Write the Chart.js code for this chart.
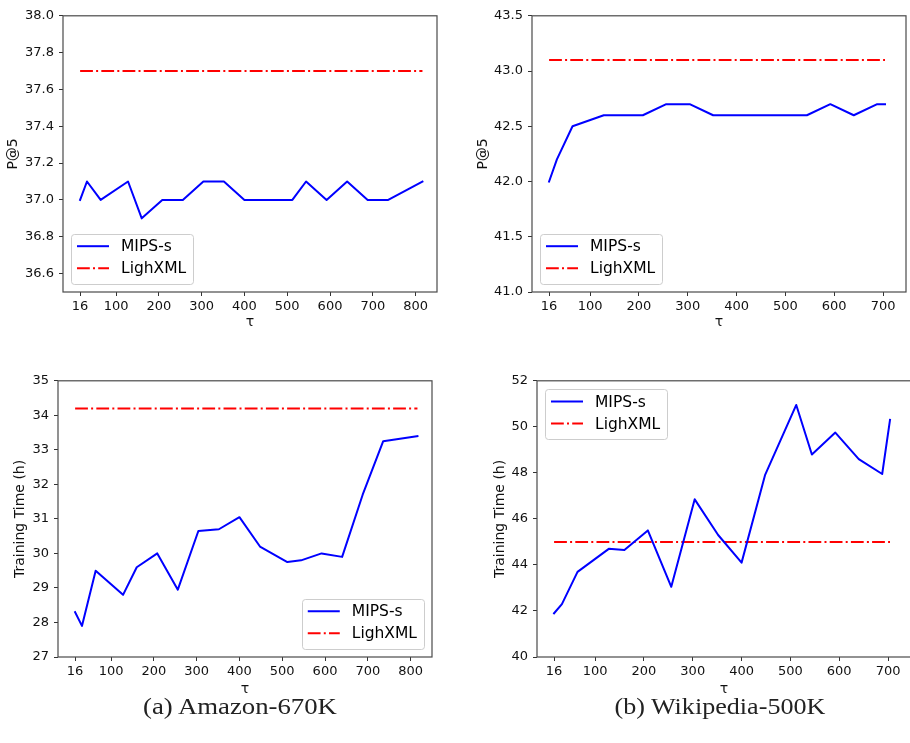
<!DOCTYPE html>
<html><head><meta charset="utf-8">
<script src="https://cdn.jsdelivr.net/npm/chart.js@4.4.0/dist/chart.umd.min.js"></script>
<style>
html,body{margin:0;padding:0;background:#fff;}
body{width:910px;height:743px;position:relative;overflow:hidden;}
.box{position:absolute;}
.box canvas{display:block;}
.cap{position:absolute;font-family:'Liberation Serif','Times New Roman',serif;font-size:24px;line-height:28px;color:#222;white-space:nowrap;transform-origin:center center;}
</style></head><body>
<div class="box" id="b1"><canvas id="c1"></canvas></div>
<div class="box" id="b2"><canvas id="c2"></canvas></div>
<div class="box" id="b3"><canvas id="c3"></canvas></div>
<div class="box" id="b4"><canvas id="c4"></canvas></div>
<div class="cap" id="capA">(a) Amazon-670K</div>
<div class="cap" id="capB">(b) Wikipedia-500K</div>
<script>
// ---------- data ----------
const amazonTau = [16, 32, 64, 128, 160, 208, 256, 304, 352, 400, 448, 512, 544, 592, 640, 688, 736, 816];
const amazonMipsP5 = [37.0, 37.1, 37.0, 37.1, 36.9, 37.0, 37.0, 37.1, 37.1, 37.0, 37.0, 37.0, 37.1, 37.0, 37.1, 37.0, 37.0, 37.1];
const amazonLighP5 = 37.7;
const amazonMipsTime = [28.3, 27.9, 29.5, 28.8, 29.6, 30.0, 28.95, 30.65, 30.7, 31.05, 30.2, 29.75, 29.8, 30.0, 29.9, 31.7, 33.25, 33.4];
const amazonLighTime = 34.2;

const wikiTau = [16, 32, 64, 128, 160, 208, 256, 304, 352, 400, 448, 512, 544, 592, 640, 688, 704];
const wikiMipsP5 = [42.0, 42.2, 42.5, 42.6, 42.6, 42.6, 42.7, 42.7, 42.6, 42.6, 42.6, 42.6, 42.6, 42.7, 42.6, 42.7, 42.7];
const wikiLighP5 = 43.1;
const wikiMipsTime = [41.9, 42.3, 43.7, 44.7, 44.65, 45.5, 43.05, 46.85, 45.3, 44.1, 47.9, 50.95, 48.8, 49.75, 48.6, 47.95, 50.3];
const wikiLighTime = 45.0;

const amazonXTicks = [16, 100, 200, 300, 400, 500, 600, 700, 800];
const wikiXTicks = [16, 100, 200, 300, 400, 500, 600, 700];
const p5AmazonYTicks = [36.6, 36.8, 37.0, 37.2, 37.4, 37.6, 37.8, 38.0];
const p5WikiYTicks = [41.0, 41.5, 42.0, 42.5, 43.0, 43.5];
const timeAmazonYTicks = [27, 28, 29, 30, 31, 32, 33, 34, 35];
const timeWikiYTicks = [40, 42, 44, 46, 48, 50, 52];

const seriesLabels = ['MIPS-s', 'LighXML'];
const xTitle = 'τ';

// ---------- layout ----------
const PW = 374, PH = 279;
const panels = [
  {box:'b1', cv:'c1', left:0,   top:3,   M:63, ytPad:5.3,  xtPad:11.6, tau:amazonTau, mips:amazonMipsP5, ligh:amazonLighP5, xt:amazonXTicks, yt:p5AmazonYTicks, ymin:36.5, ymax:38.0, xmin:-24, xmax:850, dec:1, ytitle:'P@5', loc:'lower left'},
  {box:'b2', cv:'c2', left:460, top:3,   M:72, ytPad:14.6, xtPad:11.6, tau:wikiTau, mips:wikiMipsP5, ligh:wikiLighP5, xt:wikiXTicks, yt:p5WikiYTicks, ymin:41.0, ymax:43.5, xmin:-19, xmax:747, dec:1, ytitle:'P@5', loc:'lower left'},
  {box:'b3', cv:'c3', left:0,   top:368, M:58, ytPad:12.3, xtPad:9.6, tau:amazonTau, mips:amazonMipsTime, ligh:amazonLighTime, xt:amazonXTicks, yt:timeAmazonYTicks, ymin:27, ymax:35, xmin:-24, xmax:850, dec:0, ytitle:'Training Time (h)', loc:'lower right'},
  {box:'b4', cv:'c4', left:460, top:368, M:77, ytPad:31.6, xtPad:9.6, tau:wikiTau, mips:wikiMipsTime, ligh:wikiLighTime, xt:wikiXTicks, yt:timeWikiYTicks, ymin:40, ymax:52, xmin:-19, xmax:747, dec:0, ytitle:'Training Time (h)', loc:'upper left'}
];

const framePlugin = {
  id: 'frame',
  afterDatasetsDraw(chart) {
    const {ctx, chartArea: a} = chart;
    ctx.save();
    ctx.strokeStyle = '#4a4a4a';
    ctx.lineWidth = 1.2;
    ctx.strokeRect(a.left, a.top, a.right - a.left, a.bottom - a.top);
    ctx.restore();
  }
};

const legendPlugin = {
  id: 'mlegend',
  afterDraw(chart, args, o) {
    if (!o || !o.loc) return;
    const ctx = chart.ctx, a = chart.chartArea;
    ctx.save();
    ctx.font = '15.5px "DejaVu Sans"';
    const items = chart.data.datasets;
    const tw = Math.max(...items.map(d => ctx.measureText(d.label).width));
    const w = 50 + tw + 7, h = 50;
    const x = o.loc.includes('left') ? a.left + 8 : a.right - 8 - w;
    const y = o.loc.includes('upper') ? a.top + 8 : a.bottom - 8.5 - h;
    ctx.beginPath();
    ctx.roundRect(Math.round(x) + 0.5, Math.round(y) + 0.5, Math.round(w), h, 3);
    ctx.fillStyle = 'rgba(255,255,255,0.8)';
    ctx.fill();
    ctx.strokeStyle = 'rgba(200,200,200,0.9)';
    ctx.lineWidth = 1;
    ctx.stroke();
    items.forEach((d, i) => {
      const cy = y + 12.7 + i * 22;
      ctx.beginPath();
      ctx.setLineDash(d.borderDash || []);
      ctx.lineWidth = d.borderWidth;
      ctx.strokeStyle = d.borderColor;
      ctx.lineCap = 'butt';
      ctx.moveTo(x + 6, cy);
      ctx.lineTo(x + 38, cy);
      ctx.stroke();
      ctx.setLineDash([]);
      ctx.fillStyle = '#000';
      ctx.textBaseline = 'middle';
      ctx.textAlign = 'left';
      ctx.fillText(d.label, x + 50, cy + 1);
    });
    ctx.restore();
  }
};

Chart.defaults.font.family = '"DejaVu Sans", sans-serif';
Chart.defaults.color = '#000';

panels.forEach(p => {
  const box = document.getElementById(p.box);
  const W = p.M + PW + 10, H = 10 + PH + 50;
  box.style.left = p.left + 'px';
  box.style.top = p.top + 'px';
  const cv = document.getElementById(p.cv);
  cv.width = W; cv.height = H;
  cv.style.width = W + 'px'; cv.style.height = H + 'px';
  const mipsData = p.tau.map((t, i) => ({x: t, y: p.mips[i]}));
  const lighData = [{x: p.tau[0], y: p.ligh}, {x: p.tau[p.tau.length - 1], y: p.ligh}];
  new Chart(cv, {
    type: 'line',
    data: {
      datasets: [
        {label: seriesLabels[0], data: mipsData, borderColor: '#0000ff', borderWidth: 2, pointRadius: 0, tension: 0, fill: false, borderJoinStyle: 'round', borderCapStyle: 'square'},
        {label: seriesLabels[1], data: lighData, borderColor: '#ff0000', borderWidth: 2, borderDash: [12.8, 3.2, 2, 3.2], pointRadius: 0, tension: 0, fill: false, borderCapStyle: 'butt'}
      ]
    },
    options: {
      responsive: false,
      animation: false,
      events: [],
      layout: {padding: {left: 0, top: 10, right: 10, bottom: 0}},
      plugins: {legend: {display: false}, tooltip: {enabled: false}, mlegend: {loc: p.loc}},
      scales: {
        x: {
          type: 'linear', min: p.xmin, max: p.xmax,
          afterBuildTicks: s => { s.ticks = p.xt.map(v => ({value: v})); },
          afterFit: s => { s.height = 50; },
          ticks: {autoSkip: false, maxRotation: 0, padding: 3, font: {size: 13}, color: '#111', callback: v => String(v)},
          grid: {display: true, drawOnChartArea: false, drawTicks: true, tickLength: 4, color: '#333', lineWidth: 1},
          border: {display: false},
          title: {display: true, text: xTitle, font: {size: 14}, color: '#111', padding: {top: 0, bottom: p.xtPad}}
        },
        y: {
          type: 'linear', min: p.ymin, max: p.ymax,
          afterBuildTicks: s => { s.ticks = p.yt.map(v => ({value: v})); },
          afterFit: s => { s.width = p.M; },
          ticks: {autoSkip: false, padding: 5, font: {size: 13}, color: '#111', callback: v => Number(v).toFixed(p.dec)},
          grid: {display: true, drawOnChartArea: false, drawTicks: true, tickLength: 4, color: '#333', lineWidth: 1},
          border: {display: false},
          title: {display: true, text: p.ytitle, font: {size: 14}, color: '#111', padding: {top: p.ytPad, bottom: 0}}
        }
      }
    },
    plugins: [framePlugin, legendPlugin]
  });
});

function placeCap(id, cx, cy, targetW) {
  const el = document.getElementById(id);
  const w = el.offsetWidth;
  el.style.left = (cx - w / 2) + 'px';
  el.style.top = (cy - 14) + 'px';
  el.style.transform = 'scaleX(' + (targetW / w).toFixed(3) + ')';
}
placeCap('capA', 240, 706, 194);
placeCap('capB', 720, 706, 211);
</script>
</body></html>
